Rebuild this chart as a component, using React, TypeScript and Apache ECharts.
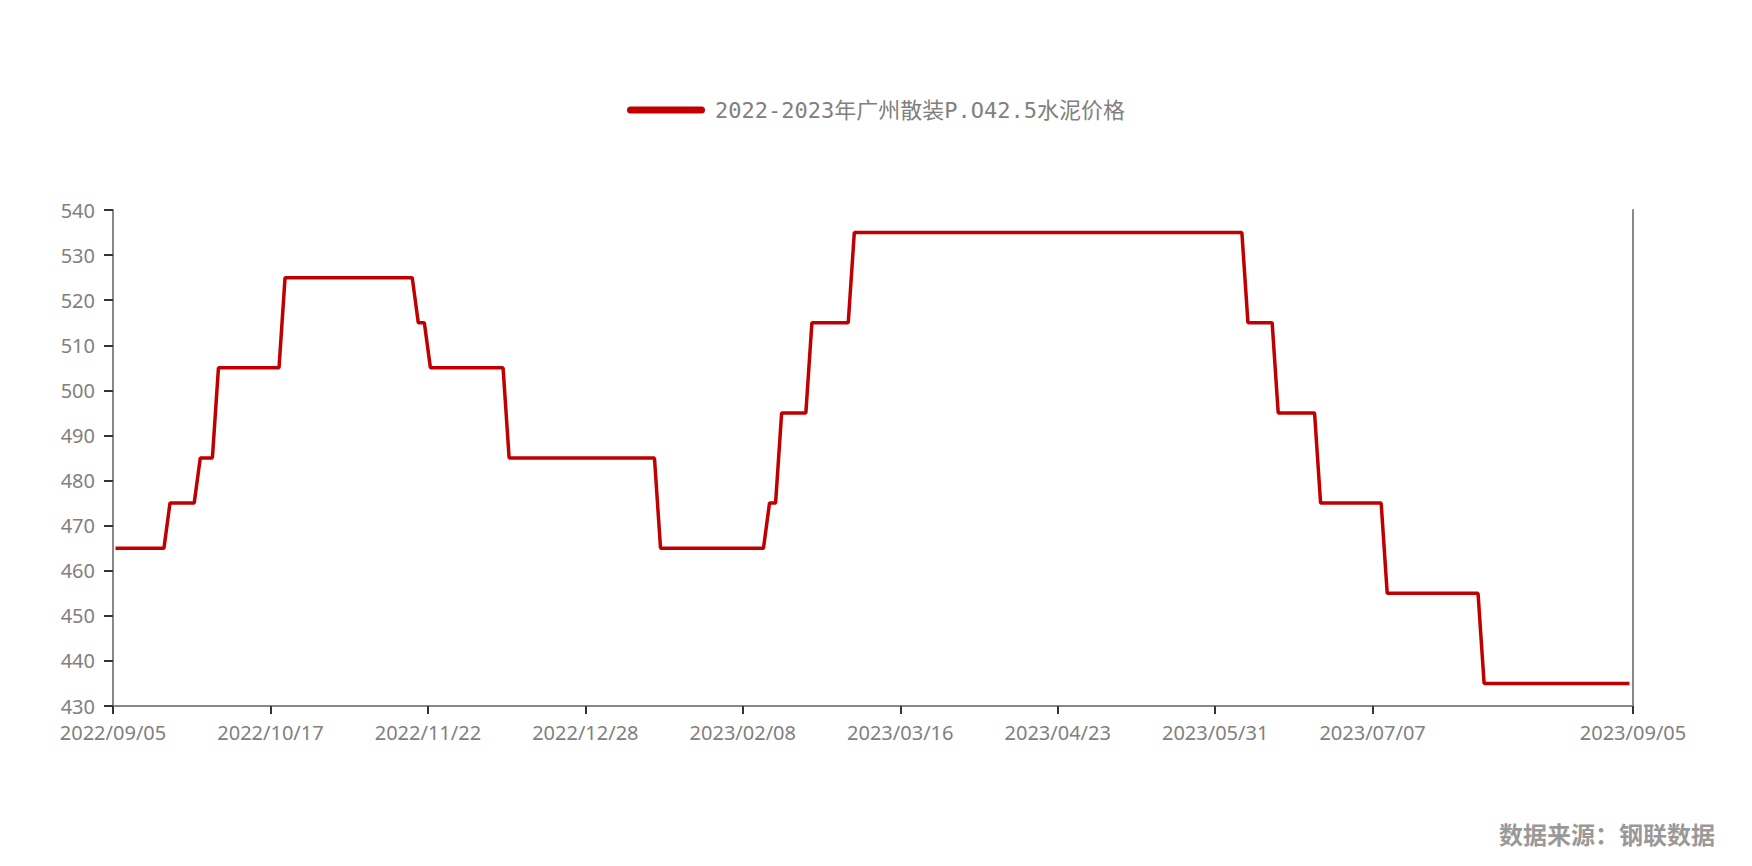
import React, { useEffect, useRef } from "react";
import * as echarts from "echarts";

// Trading-day calendar (China, 2022-09-05 .. 2023-09-05)
const startDate = "2022-09-05";
const endDate = "2023-09-05";
const holidays = [
  "2022-09-12", "2022-10-03", "2022-10-04", "2022-10-05", "2022-10-06", "2022-10-07",
  "2023-01-02", "2023-01-23", "2023-01-24", "2023-01-25", "2023-01-26", "2023-01-27",
  "2023-04-05", "2023-05-01", "2023-05-02", "2023-05-03", "2023-06-22", "2023-06-23",
];
const extraTradingDays = [
  "2022-10-08", "2022-10-09", "2023-01-28", "2023-01-29", "2023-04-23", "2023-05-06", "2023-06-25",
  "2023-08-26",
];

// Price levels (元/吨) and how many consecutive trading days each level lasted
const priceLevels = [465, 475, 485, 505, 525, 515, 505, 485, 465, 475, 495, 515, 535, 515, 495, 475, 455, 435];
const levelDays = [9, 5, 3, 11, 22, 2, 13, 25, 18, 2, 5, 7, 65, 5, 7, 11, 16, 25];

const yTicks = { min: 430, max: 540, interval: 10 };
const seriesName = "2022-2023年广州散装P.O42.5水泥价格";
const sourceText = "数据来源：钢联数据";

function pad(n: number) {
  return n < 10 ? "0" + n : "" + n;
}

function buildDates(): string[] {
  const out: string[] = [];
  const d = new Date(startDate + "T00:00:00Z");
  const end = new Date(endDate + "T00:00:00Z");
  while (d.getTime() <= end.getTime()) {
    const iso = d.getUTCFullYear() + "-" + pad(d.getUTCMonth() + 1) + "-" + pad(d.getUTCDate());
    const dow = d.getUTCDay();
    const weekend = dow === 0 || dow === 6;
    const work = extraTradingDays.includes(iso) || (!weekend && !holidays.includes(iso));
    if (work) out.push(iso.replace(/-/g, "/"));
    d.setUTCDate(d.getUTCDate() + 1);
  }
  return out;
}

function buildValues(n: number): (number | null)[] {
  const vals: (number | null)[] = [];
  priceLevels.forEach((v, i) => {
    for (let k = 0; k < levelDays[i]; k++) vals.push(v);
  });
  while (vals.length < n) vals.push(null);
  return vals.slice(0, n);
}

export default function App() {
  const ref = useRef<HTMLDivElement>(null);
  useEffect(() => {
    document.body.style.margin = "0";
    if (!ref.current) return;
    const chart = echarts.init(ref.current, undefined, { renderer: "svg" });
    const dates = buildDates();
    const values = buildValues(dates.length);
    const labelColor = "#808080";
    const axisLineStyle = { color: "#888888", width: 2 };
    chart.setOption({
      animation: false,
      backgroundColor: "#ffffff",
      legend: {
        left: 622,
        top: 94,
        itemWidth: 78,
        itemHeight: 7,
        icon: "path://M3.5,0 L74.5,0 A3.5,3.5 0 0 1 74.5,7 L3.5,7 A3.5,3.5 0 0 1 3.5,0 Z",
        textStyle: {
          fontSize: 22,
          color: labelColor,
          fontFamily: "DejaVu Sans Mono, Noto Sans CJK SC, monospace",
          padding: [0, 0, 0, 5],
        },
        data: [seriesName],
      },
      grid: [
        { left: 113, right: 119, top: 210, bottom: 160 },
        { left: 115.5, right: 116.5, top: 210, bottom: 160 },
      ],
      xAxis: [
        {
          type: "category",
          gridIndex: 0,
          boundaryGap: false,
          data: dates,
          axisLine: { show: true, lineStyle: axisLineStyle },
          axisTick: { show: true, interval: 25, length: 8, lineStyle: { color: "#333333", width: 2 } },
          axisLabel: {
            interval: 25,
            showMaxLabel: true,
            fontSize: 20,
            color: labelColor,
            margin: 16,
            fontFamily: "Noto Sans, sans-serif",
          },
          splitLine: { show: false },
        },
        {
          type: "category",
          gridIndex: 1,
          boundaryGap: false,
          data: dates,
          show: false,
        },
      ],
      yAxis: [
        {
          type: "value",
          gridIndex: 0,
          min: yTicks.min,
          max: yTicks.max,
          interval: yTicks.interval,
          axisLine: { show: true, lineStyle: axisLineStyle },
          axisTick: { show: true, length: 9, lineStyle: { color: "#333333", width: 2 } },
          axisLabel: { fontSize: 20, color: labelColor, margin: 18, fontFamily: "Noto Sans, sans-serif" },
          splitLine: { show: false },
        },
        {
          type: "value",
          gridIndex: 0,
          position: "right",
          min: yTicks.min,
          max: yTicks.max,
          interval: yTicks.interval,
          axisLine: { show: true, lineStyle: axisLineStyle },
          axisTick: { show: false },
          axisLabel: { show: false },
          splitLine: { show: false },
        },
        {
          type: "value",
          gridIndex: 1,
          min: yTicks.min,
          max: yTicks.max,
          interval: yTicks.interval,
          show: false,
          splitLine: { show: false },
        },
      ],
      series: [
        {
          name: seriesName,
          type: "line",
          xAxisIndex: 1,
          yAxisIndex: 2,
          data: values,
          showSymbol: false,
          symbol: "none",
          lineStyle: { color: "#C00000", width: 3.5 },
          itemStyle: { color: "#C00000" },
        },
      ],
      graphic: [
        {
          type: "text",
          right: 37,
          top: 821,
          style: {
            text: sourceText,
            fontSize: 24,
            fontWeight: "bold",
            fill: "#999999",
            fontFamily: "Noto Sans CJK SC, sans-serif",
          },
        },
      ],
    });
    return () => chart.dispose();
  }, []);
  return <div ref={ref} style={{ width: 1752, height: 866 }} />;
}
